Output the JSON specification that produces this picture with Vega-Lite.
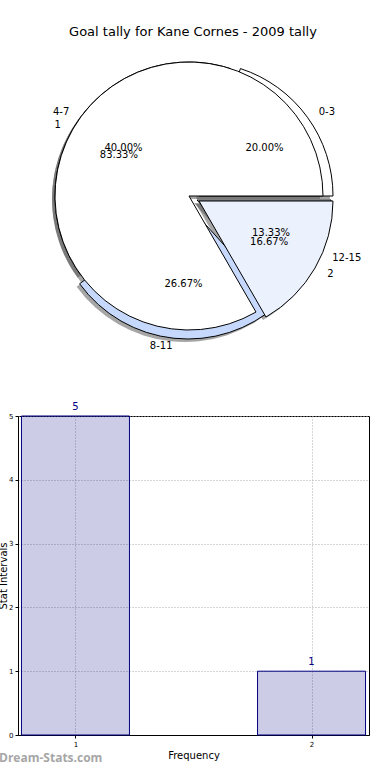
{
"$schema": "https://vega.github.io/schema/vega-lite/v6.json",
"padding": {"left": -2, "top": 26, "right": 0, "bottom": 0},
"spacing": 49,
"config": {"font": "DejaVu Sans", "view": {"stroke": null}},
"datasets": {
 "pie1": [
  {"label": "0-3", "share": 0.2, "o": 1},
  {"label": "4-7", "share": 0.4, "o": 2},
  {"label": "8-11", "share": 0.26667, "o": 3},
  {"label": "12-15", "share": 0.13333, "o": 4}
 ],
 "pie2": [
  {"label": "1", "share": 0.83333, "o": 1},
  {"label": "2", "share": 0.16667, "o": 2}
 ],
 "bars": [
  {"freq": 1, "count": 5},
  {"freq": 2, "count": 1}
 ]
},
"vconcat": [
{
 "width": 342, "height": 300,
 "title": {"text": "Goal tally for Kane Cornes - 2009 tally", "fontSize": 13, "fontWeight": "normal", "frame": "group", "offset": 7, "dx": 4},
 "layer": [
  {"data": {"name": "pie1"}, "transform": [{"stack": "share", "groupby": [], "sort": [{"field": "o", "order": "ascending"}], "as": ["s0", "s1"]}, {"filter": "datum.label === '0-3'"}],
   "mark": {"type": "arc", "outerRadius": 134, "fill": "#4d4d4d", "opacity": 0.5, "xOffset": 7, "yOffset": 3},
   "encoding": {"x": {"datum": 0, "type": "quantitative", "scale": {"domain": [-1, 1]}, "axis": null}, "y": {"datum": 0, "type": "quantitative", "scale": {"domain": [-1, 1]}, "axis": null},
    "theta": {"field": "s0", "type": "quantitative", "stack": null, "scale": {"domain": [0, 1], "range": [1.5707963, -4.712389]}}, "theta2": {"field": "s1"}}},
  {"data": {"name": "pie1"}, "transform": [{"stack": "share", "groupby": [], "sort": [{"field": "o", "order": "ascending"}], "as": ["s0", "s1"]}, {"filter": "datum.label === '4-7'"}],
   "mark": {"type": "arc", "outerRadius": 134, "fill": "#4d4d4d", "opacity": 0.5, "xOffset": -3, "yOffset": 3},
   "encoding": {"x": {"datum": 0, "type": "quantitative"}, "y": {"datum": 0, "type": "quantitative"},
    "theta": {"field": "s0", "type": "quantitative", "stack": null}, "theta2": {"field": "s1"}}},
  {"data": {"name": "pie1"}, "transform": [{"stack": "share", "groupby": [], "sort": [{"field": "o", "order": "ascending"}], "as": ["s0", "s1"]}, {"filter": "datum.label === '8-11'"}],
   "mark": {"type": "arc", "outerRadius": 134, "fill": "#4d4d4d", "opacity": 0.5, "xOffset": -4, "yOffset": 12},
   "encoding": {"x": {"datum": 0, "type": "quantitative"}, "y": {"datum": 0, "type": "quantitative"},
    "theta": {"field": "s0", "type": "quantitative", "stack": null}, "theta2": {"field": "s1"}}},
  {"data": {"name": "pie1"}, "transform": [{"stack": "share", "groupby": [], "sort": [{"field": "o", "order": "ascending"}], "as": ["s0", "s1"]}, {"filter": "datum.label === '12-15'"}],
   "mark": {"type": "arc", "outerRadius": 134, "fill": "#4d4d4d", "opacity": 0.5, "xOffset": 5, "yOffset": 7},
   "encoding": {"x": {"datum": 0, "type": "quantitative"}, "y": {"datum": 0, "type": "quantitative"},
    "theta": {"field": "s0", "type": "quantitative", "stack": null}, "theta2": {"field": "s1"}}},
  {"data": {"name": "pie2"}, "transform": [{"stack": "share", "groupby": [], "sort": [{"field": "o", "order": "ascending"}], "as": ["s0", "s1"]}, {"filter": "datum.label === '1'"}],
   "mark": {"type": "arc", "outerRadius": 134, "fill": "#4d4d4d", "opacity": 0.5, "xOffset": -3, "yOffset": 3},
   "encoding": {"x": {"datum": 0, "type": "quantitative"}, "y": {"datum": 0, "type": "quantitative"},
    "theta": {"field": "s0", "type": "quantitative", "stack": null}, "theta2": {"field": "s1"}}},
  {"data": {"name": "pie2"}, "transform": [{"stack": "share", "groupby": [], "sort": [{"field": "o", "order": "ascending"}], "as": ["s0", "s1"]}, {"filter": "datum.label === '2'"}],
   "mark": {"type": "arc", "outerRadius": 134, "fill": "#4d4d4d", "opacity": 0.5, "xOffset": 7, "yOffset": 8},
   "encoding": {"x": {"datum": 0, "type": "quantitative"}, "y": {"datum": 0, "type": "quantitative"},
    "theta": {"field": "s0", "type": "quantitative", "stack": null}, "theta2": {"field": "s1"}}},

  {"data": {"name": "pie1"}, "transform": [{"stack": "share", "groupby": [], "sort": [{"field": "o", "order": "ascending"}], "as": ["s0", "s1"]}, {"filter": "datum.label === '0-3'"}],
   "mark": {"type": "arc", "outerRadius": 134, "stroke": "black", "strokeWidth": 1, "xOffset": 10, "yOffset": 0},
   "encoding": {"x": {"datum": 0, "type": "quantitative"}, "y": {"datum": 0, "type": "quantitative"},
    "theta": {"field": "s0", "type": "quantitative", "stack": null}, "theta2": {"field": "s1"},
    "color": {"field": "label", "type": "nominal", "legend": null, "scale": {"domain": ["0-3", "4-7", "8-11", "12-15", "1", "2"], "range": ["#ffffff", "#ffffff", "#c6d9fd", "#dfe8fb", "#ffffff", "#ebf1fd"]}}}},
  {"data": {"name": "pie1"}, "transform": [{"stack": "share", "groupby": [], "sort": [{"field": "o", "order": "ascending"}], "as": ["s0", "s1"]}, {"filter": "datum.label === '4-7'"}],
   "mark": {"type": "arc", "outerRadius": 134, "stroke": "black", "strokeWidth": 1},
   "encoding": {"x": {"datum": 0, "type": "quantitative"}, "y": {"datum": 0, "type": "quantitative"},
    "theta": {"field": "s0", "type": "quantitative", "stack": null}, "theta2": {"field": "s1"},
    "color": {"field": "label", "type": "nominal", "legend": null}}},
  {"data": {"name": "pie1"}, "transform": [{"stack": "share", "groupby": [], "sort": [{"field": "o", "order": "ascending"}], "as": ["s0", "s1"]}, {"filter": "datum.label === '8-11'"}],
   "mark": {"type": "arc", "outerRadius": 134, "stroke": "black", "strokeWidth": 1, "xOffset": -1, "yOffset": 9},
   "encoding": {"x": {"datum": 0, "type": "quantitative"}, "y": {"datum": 0, "type": "quantitative"},
    "theta": {"field": "s0", "type": "quantitative", "stack": null}, "theta2": {"field": "s1"},
    "color": {"field": "label", "type": "nominal", "legend": null}}},
  {"data": {"name": "pie1"}, "transform": [{"stack": "share", "groupby": [], "sort": [{"field": "o", "order": "ascending"}], "as": ["s0", "s1"]}, {"filter": "datum.label === '12-15'"}],
   "mark": {"type": "arc", "outerRadius": 134, "stroke": "black", "strokeWidth": 1, "xOffset": 8, "yOffset": 4},
   "encoding": {"x": {"datum": 0, "type": "quantitative"}, "y": {"datum": 0, "type": "quantitative"},
    "theta": {"field": "s0", "type": "quantitative", "stack": null}, "theta2": {"field": "s1"},
    "color": {"field": "label", "type": "nominal", "legend": null}}},
  {"data": {"name": "pie2"}, "transform": [{"stack": "share", "groupby": [], "sort": [{"field": "o", "order": "ascending"}], "as": ["s0", "s1"]}, {"filter": "datum.label === '1'"}],
   "mark": {"type": "arc", "outerRadius": 134, "stroke": "black", "strokeWidth": 1},
   "encoding": {"x": {"datum": 0, "type": "quantitative"}, "y": {"datum": 0, "type": "quantitative"},
    "theta": {"field": "s0", "type": "quantitative", "stack": null}, "theta2": {"field": "s1"},
    "color": {"field": "label", "type": "nominal", "legend": null}}},
  {"data": {"name": "pie2"}, "transform": [{"stack": "share", "groupby": [], "sort": [{"field": "o", "order": "ascending"}], "as": ["s0", "s1"]}, {"filter": "datum.label === '2'"}],
   "mark": {"type": "arc", "outerRadius": 134, "stroke": "black", "strokeWidth": 1, "xOffset": 10, "yOffset": 5},
   "encoding": {"x": {"datum": 0, "type": "quantitative"}, "y": {"datum": 0, "type": "quantitative"},
    "theta": {"field": "s0", "type": "quantitative", "stack": null}, "theta2": {"field": "s1"},
    "color": {"field": "label", "type": "nominal", "legend": null}}},

  {"data": {"name": "pie1"}, "mark": {"type": "text", "radius": 148, "align": "left", "baseline": "middle", "fontSize": 10, "dx": 10, "dy": 3},
   "encoding": {"theta": {"field": "share", "type": "quantitative", "stack": true}, "order": {"field": "o", "type": "quantitative"},
    "text": {"condition": {"test": "datum.label === '0-3'", "field": "label", "type": "nominal"}, "value": ""}}},
  {"data": {"name": "pie1"}, "mark": {"type": "text", "radius": 148, "align": "right", "baseline": "middle", "fontSize": 10, "dy": 3},
   "encoding": {"theta": {"field": "share", "type": "quantitative", "stack": true}, "order": {"field": "o", "type": "quantitative"},
    "text": {"condition": {"test": "datum.label === '4-7'", "field": "label", "type": "nominal"}, "value": ""}}},
  {"data": {"name": "pie1"}, "mark": {"type": "text", "radius": 148, "align": "right", "baseline": "middle", "fontSize": 10, "dx": -1, "dy": 3},
   "encoding": {"theta": {"field": "share", "type": "quantitative", "stack": true}, "order": {"field": "o", "type": "quantitative"},
    "text": {"condition": {"test": "datum.label === '8-11'", "field": "label", "type": "nominal"}, "value": ""}}},
  {"data": {"name": "pie1"}, "mark": {"type": "text", "radius": 148, "align": "left", "baseline": "middle", "fontSize": 10, "dx": 8, "dy": 2},
   "encoding": {"theta": {"field": "share", "type": "quantitative", "stack": true}, "order": {"field": "o", "type": "quantitative"},
    "text": {"condition": {"test": "datum.label === '12-15'", "field": "label", "type": "nominal"}, "value": ""}}},
  {"data": {"name": "pie2"}, "mark": {"type": "text", "radius": 148, "align": "right", "baseline": "middle", "fontSize": 10, "dy": 3},
   "encoding": {"theta": {"field": "share", "type": "quantitative", "stack": true}, "order": {"field": "o", "type": "quantitative"},
    "text": {"condition": {"test": "datum.label === '1'", "field": "label", "type": "nominal"}, "value": ""}}},
  {"data": {"name": "pie2"}, "mark": {"type": "text", "radius": 148, "align": "left", "baseline": "middle", "fontSize": 10, "dx": 10, "dy": 4},
   "encoding": {"theta": {"field": "share", "type": "quantitative", "stack": true}, "order": {"field": "o", "type": "quantitative"},
    "text": {"condition": {"test": "datum.label === '2'", "field": "label", "type": "nominal"}, "value": ""}}},

  {"data": {"name": "pie1"}, "mark": {"type": "text", "radius": 81, "align": "center", "baseline": "middle", "fontSize": 10, "dx": 10},
   "encoding": {"theta": {"field": "share", "type": "quantitative", "stack": true}, "order": {"field": "o", "type": "quantitative"},
    "text": {"condition": {"test": "datum.label === '0-3'", "field": "share", "type": "quantitative", "format": ".2%"}, "value": ""}}},
  {"data": {"name": "pie1"}, "mark": {"type": "text", "radius": 81, "align": "center", "baseline": "middle", "fontSize": 10},
   "encoding": {"theta": {"field": "share", "type": "quantitative", "stack": true}, "order": {"field": "o", "type": "quantitative"},
    "text": {"condition": {"test": "datum.label === '4-7'", "field": "share", "type": "quantitative", "format": ".2%"}, "value": ""}}},
  {"data": {"name": "pie1"}, "mark": {"type": "text", "radius": 81, "align": "center", "baseline": "middle", "fontSize": 10, "dx": 3, "dy": 7},
   "encoding": {"theta": {"field": "share", "type": "quantitative", "stack": true}, "order": {"field": "o", "type": "quantitative"},
    "text": {"condition": {"test": "datum.label === '8-11'", "field": "share", "type": "quantitative", "format": ".2%"}, "value": ""}}},
  {"data": {"name": "pie1"}, "mark": {"type": "text", "radius": 81, "align": "center", "baseline": "middle", "fontSize": 10, "dx": 8, "dy": 4},
   "encoding": {"theta": {"field": "share", "type": "quantitative", "stack": true}, "order": {"field": "o", "type": "quantitative"},
    "text": {"condition": {"test": "datum.label === '12-15'", "field": "share", "type": "quantitative", "format": ".2%"}, "value": ""}}},
  {"data": {"name": "pie2"}, "mark": {"type": "text", "radius": 81, "align": "center", "baseline": "middle", "fontSize": 10},
   "encoding": {"theta": {"field": "share", "type": "quantitative", "stack": true}, "order": {"field": "o", "type": "quantitative"},
    "text": {"condition": {"test": "datum.label === '1'", "field": "share", "type": "quantitative", "format": ".2%"}, "value": ""}}},
  {"data": {"name": "pie2"}, "mark": {"type": "text", "radius": 81, "align": "center", "baseline": "middle", "fontSize": 10, "dx": 10, "dy": 5},
   "encoding": {"theta": {"field": "share", "type": "quantitative", "stack": true}, "order": {"field": "o", "type": "quantitative"},
    "text": {"condition": {"test": "datum.label === '2'", "field": "share", "type": "quantitative", "format": ".2%"}, "value": ""}}}
 ]
},
{
 "width": 351, "height": 319,
 "data": {"name": "bars"},
 "view": {"stroke": "black", "strokeWidth": 1},
 "title": {"text": "Dream-Stats.com", "orient": "bottom", "anchor": "start", "frame": "group", "dx": -19, "offset": -7, "font": "Open Sans", "fontSize": 12, "fontWeight": "bold", "color": "#a6a6a6"},
 "encoding": {
  "x": {"field": "freq", "type": "quantitative", "scale": {"domain": [0.7778, 2.2222], "nice": false, "zero": false},
   "axis": {"values": [1, 2], "title": "Frequency", "titleFontSize": 10, "titleFontWeight": "normal", "titlePadding": 3, "labelFontSize": 7, "labelPadding": 2, "tickSize": 3, "tickColor": "black", "domainColor": "black", "labelColor": "black", "titleColor": "black", "grid": true, "gridColor": "#aaaaaa", "gridDash": [1, 2]}},
  "y": {"field": "count", "type": "quantitative", "scale": {"domain": [0, 5], "nice": false},
   "axis": {"values": [0, 1, 2, 3, 4, 5], "title": "Stat Intervals", "titleFontSize": 10, "titleFontWeight": "normal", "titlePadding": 0, "labelFontSize": 7, "labelPadding": 2, "tickSize": 3, "tickColor": "black", "domainColor": "black", "labelColor": "black", "titleColor": "black", "grid": true, "gridColor": "#aaaaaa", "gridDash": [1, 2]}}
 },
 "layer": [
  {"mark": {"type": "bar", "width": 108, "fill": "#000080", "fillOpacity": 0.2, "stroke": "#000080", "strokeWidth": 1}},
  {"mark": {"type": "text", "dy": -9, "color": "#000080", "fontSize": 10}, "encoding": {"text": {"field": "count", "type": "quantitative"}}}
 ]
}
]
}
